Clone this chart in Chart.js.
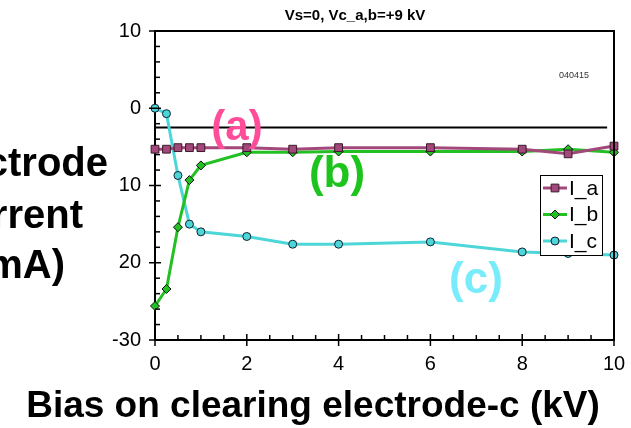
<!DOCTYPE html>
<html>
<head>
<meta charset="utf-8">
<script src="https://cdn.jsdelivr.net/npm/chart.js@4.4.1/dist/chart.umd.min.js"></script>
<style>
  html, body { margin: 0; padding: 0; background: #fff; }
  #wrap { width: 631px; height: 428px; }
</style>
</head>
<body>
<div id="wrap"><canvas id="myChart" width="631" height="428"></canvas></div>
<script>
// bias on electrode c (kV) and currents (mA)
const biasKV   = [0, 0.25, 0.5, 0.75, 1, 2, 3, 4, 6, 8, 9, 10];
const currentA = [-5.3, -5.3, -5.1, -5.1, -5.1, -5.1, -5.3, -5.1, -5.1, -5.3, -5.9, -4.9];
const currentB = [-25.6, -23.4, -15.4, -9.3, -7.4, -5.7, -5.7, -5.6, -5.6, -5.6, -5.3, -5.7];
const currentC = [0, -0.7, -8.7, -15.0, -16.0, -16.6, -17.6, -17.6, -17.3, -18.6, -18.8, -19.0];
const seriesNames = ['I_a', 'I_b', 'I_c'];

// horizontal reference line
const refLineX = [0, 9.85];
const refLineY = [-2.5, -2.5];

// tick labels as printed on the figure
const yTickValues = [-30, -20, -10, 0, 10];
const yTickLabels = ['-30', '20', '10', '0', '10'];

Chart.defaults.font.family = "'Liberation Sans', Arial, sans-serif";
Chart.defaults.color = '#000';

function toPoints(xs, ys) {
  return xs.map((x, i) => ({ x: x, y: ys[i] }));
}

const figurePlugin = {
  id: 'figure',
  afterDatasetsDraw(chart) {
    const ctx = chart.ctx;
    const xs = chart.scales.x, ys = chart.scales.y;
    const a = chart.chartArea;
    ctx.save();

    // frame top and right
    ctx.strokeStyle = '#000';
    ctx.lineWidth = 2;
    ctx.beginPath();
    ctx.moveTo(a.left, a.top);
    ctx.lineTo(a.right, a.top);
    ctx.lineTo(a.right, a.bottom);
    ctx.stroke();

    // tick marks
    ctx.lineWidth = 1.5;
    for (let v = 0; v <= 10.001; v += 0.5) {
      const px = xs.getPixelForValue(v);
      const major = Math.abs(v % 2) < 0.001;
      ctx.beginPath();
      ctx.moveTo(px, a.bottom + (major ? 6 : 0));
      ctx.lineTo(px, a.bottom - (major ? 6 : 5));
      ctx.stroke();
    }
    for (let v = -30; v <= 10; v += 2) {
      const py = ys.getPixelForValue(v);
      const major = v % 10 === 0;
      ctx.beginPath();
      ctx.moveTo(a.left - (major ? 6 : 0), py);
      ctx.lineTo(a.left + (major ? 6 : 5), py);
      ctx.stroke();
    }

    // curve labels
    ctx.textAlign = 'center';
    ctx.textBaseline = 'alphabetic';
    ctx.font = "bold 42px 'Liberation Sans', Arial, sans-serif";
    ctx.fillStyle = '#ff4d9a';
    ctx.fillText('(a)', 237, 140);
    ctx.fillStyle = '#1ec41e';
    ctx.font = "bold 44px 'Liberation Sans', Arial, sans-serif";
    ctx.fillText('(b)', 337, 187);
    ctx.fillStyle = '#78ecfa';
    ctx.fillText('(c)', 476, 293);

    // legend box
    const lx = 540, ly = 175, lw = 62, lh = 80;
    ctx.fillStyle = '#fff';
    ctx.fillRect(lx, ly, lw, lh);
    ctx.strokeStyle = '#000';
    ctx.lineWidth = 1;
    ctx.strokeRect(lx + 0.5, ly + 0.5, lw, lh);
    chart.data.datasets.slice(0, 3).forEach((ds, i) => {
      const ry = ly + 13 + i * 26.5;
      ctx.strokeStyle = ds.borderColor;
      ctx.lineWidth = 3;
      ctx.beginPath();
      ctx.moveTo(lx + 3, ry);
      ctx.lineTo(lx + 27, ry);
      ctx.stroke();
      ctx.fillStyle = ds.pointBackgroundColor;
      ctx.strokeStyle = ds.pointBorderColor;
      ctx.lineWidth = 1;
      Chart.helpers.drawPoint(ctx, { pointStyle: ds.pointStyle, radius: ds.pointRadius, rotation: 0, borderWidth: 1 }, lx + 15, ry);
      ctx.fillStyle = '#000';
      ctx.textAlign = 'left';
      ctx.textBaseline = 'middle';
      ctx.font = "21px 'Liberation Sans', Arial, sans-serif";
      ctx.fillText(seriesNames[i], lx + 29, ry + 1);
    });

    // titles
    ctx.fillStyle = '#000';
    ctx.textBaseline = 'alphabetic';
    ctx.textAlign = 'center';
    ctx.font = "bold 15px 'Liberation Sans', Arial, sans-serif";
    ctx.fillText('Vs=0, Vc_a,b=+9 kV', 355, 20);
    ctx.font = "9px 'Liberation Sans', Arial, sans-serif";
    ctx.fillStyle = '#333';
    ctx.fillText('040415', 574, 78);

    ctx.fillStyle = '#000';
    ctx.font = "bold 37px 'Liberation Sans', Arial, sans-serif";
    ctx.fillText('Bias on clearing electrode-c (kV)', 313, 417);

    ctx.font = "bold 40px 'Liberation Sans', Arial, sans-serif";
    ctx.textAlign = 'right';
    ctx.fillText('Electrode', 108, 176);
    ctx.fillText('Current', 83, 228);
    ctx.fillText('(mA)', 65, 278);
    ctx.restore();
  }
};

const chart = new Chart(document.getElementById('myChart'), {
  type: 'line',
  data: {
    datasets: [
      {
        label: seriesNames[0],
        data: toPoints(biasKV, currentA),
        borderColor: '#a2487a',
        borderWidth: 3,
        pointStyle: 'rect',
        pointRadius: 5.5,
        pointBackgroundColor: '#a2487a',
        pointBorderColor: '#3a1a2a',
        pointBorderWidth: 1,
        clip: false
      },
      {
        label: seriesNames[1],
        data: toPoints(biasKV, currentB),
        borderColor: '#22c022',
        borderWidth: 3,
        pointStyle: 'rectRot',
        pointRadius: 4.5,
        pointBackgroundColor: '#22c022',
        pointBorderColor: '#111',
        pointBorderWidth: 1,
        clip: false
      },
      {
        label: seriesNames[2],
        data: toPoints(biasKV, currentC),
        borderColor: '#4cd6d8',
        borderWidth: 3,
        pointStyle: 'circle',
        pointRadius: 4,
        pointBackgroundColor: '#4cd6d8',
        pointBorderColor: '#123',
        pointBorderWidth: 1,
        clip: false
      },
      {
        label: 'ref',
        data: toPoints(refLineX, refLineY),
        borderColor: '#000',
        borderWidth: 2,
        pointRadius: 0,
        clip: false
      }
    ]
  },
  options: {
    responsive: false,
    animation: false,
    devicePixelRatio: 1,
    layout: { padding: { top: 31, right: 17, left: 0, bottom: 0 } },
    plugins: { legend: { display: false }, tooltip: { enabled: false } },
    elements: { line: { tension: 0 } },
    scales: {
      x: {
        type: 'linear',
        min: 0,
        max: 10,
        ticks: { stepSize: 2, padding: 12, font: { size: 20 }, color: '#000' },
        grid: { drawOnChartArea: false, drawTicks: false },
        border: { color: '#000', width: 2 },
        afterFit: s => { s.height = 88; s.paddingRight = 0; s.paddingLeft = 0; }
      },
      y: {
        min: -30,
        max: 10,
        afterBuildTicks: s => { s.ticks = yTickValues.map(v => ({ value: v })); },
        ticks: {
          padding: 14,
          font: { size: 20 },
          color: '#000',
          callback: v => yTickLabels[yTickValues.indexOf(v)]
        },
        grid: { drawOnChartArea: false, drawTicks: false },
        border: { color: '#000', width: 2 },
        afterFit: s => { s.width = 155; s.paddingTop = 0; s.paddingBottom = 0; }
      }
    }
  },
  plugins: [figurePlugin]
});
</script>
</body>
</html>
